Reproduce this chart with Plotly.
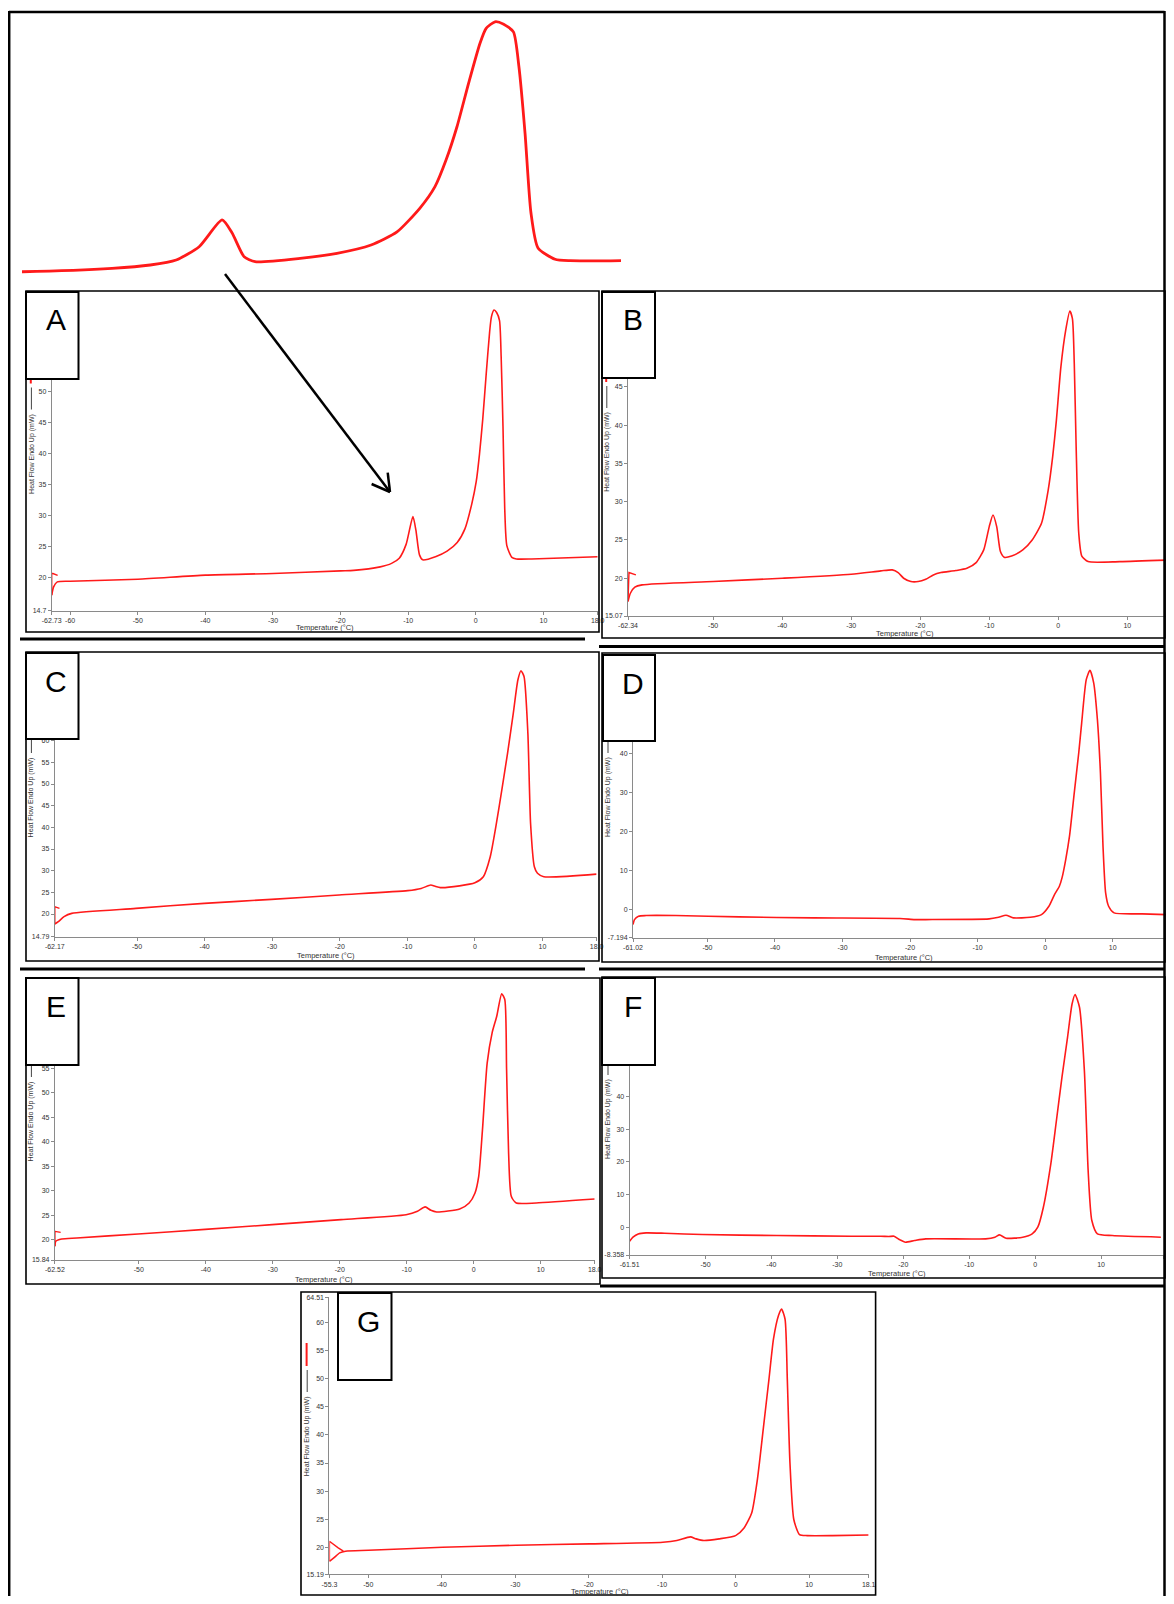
import plotly.graph_objects as go

# The page body has an 8 px margin on each side; the figure is sized so the page
# exactly fills the 1174x1604 window, and layout positions (in window pixels) are
# shifted by that offset.
WIN_W, WIN_H = 1174, 1604
OFF = 8
W, H = WIN_W - 2 * OFF, WIN_H - 2 * OFF
XMAX = OFF + W  # last visible window pixel column of the figure

# ---------------- data (Temperature in °C, Heat Flow in mW) ----------------
A_T = [-62.73, -62.45, -61.9, -60.0, -50.0, -40.0, -30.0, -20.0, -18.07, -14.14, -12.46, -11.32,
       -10.31, -9.3, -8.86, -8.33, -7.85, -5.87, -4.25, -2.75, -1.61, -0.60, 0.06, 0.55, 1.03,
       1.54, 2.04, 2.31, 2.70, 3.08, 3.51, 3.75, 4.02, 4.28, 4.59, 5.34, 6.0, 8.24, 18.03]
A_HF = [17.2, 18.55, 19.35, 19.45, 19.78, 20.43, 20.7, 21.13, 21.2, 21.77, 22.33, 23.17,
        25.4, 29.9, 27.7, 23.7, 22.9, 23.45, 24.3, 25.7, 27.9, 31.9, 35.5, 40.0, 45.6,
        52.9, 59.6, 62.1, 63.2, 62.8, 61.5, 55.7, 44.5, 31.1, 25.2, 23.3, 23.05, 23.05, 23.4]
A_hook_T = [-62.73, -62.73, -62.55, -61.85]
A_hook_HF = [17.2, 20.7, 20.7, 20.4]

B_T = [-62.34, -62.0, -61.35, -60.3, -50, -40, -30, -25.7, -24.05, -23.2, -22.4, -21.35, -20.3,
       -19.2, -18.1, -17.0, -14.86, -13.24, -11.9, -10.8, -10.0, -9.46, -8.92, -8.38, -7.84,
       -6.76, -5.14, -3.78, -2.43, -1.46, -0.81, -0.27, 0.38, 1.08, 1.68, 2.05, 2.32, 2.59,
       2.97, 3.41, 4.32, 8.92, 16.9]
B_HF = [16.96, 18.04, 18.83, 19.13, 19.57, 20.0, 20.52, 20.96, 21.09, 20.74, 20.0, 19.57, 19.57,
        19.87, 20.43, 20.74, 21.0, 21.3, 22.04, 23.7, 26.74, 28.26, 26.74, 23.48, 22.74,
        22.9, 23.7, 25.0, 27.17, 31.5, 35.87, 40.65, 47.6, 52.4, 54.9, 53.9, 48.0, 37.2,
        25.87, 22.9, 22.17, 22.17, 22.4]
B_hook_T = [-62.34, -62.3, -62.2, -61.2]
B_hook_HF = [17.0, 20.7, 20.74, 20.43]

C_T = [-62.17, -61.65, -60.8, -59.66, -50.17, -40.06, -30.1, -20.1, -9.94, -7.95, -6.53, -5.97,
       -5.1, -2.27, 0, 1.25, 2.27, 3.1, 3.98, 4.83, 5.68, 6.36, 6.82, 7.27, 7.84, 8.24, 8.8,
       9.26, 10.2, 18.0]
C_HF = [17.7, 18.23, 19.4, 20.15, 21.3, 22.46, 23.38, 24.4, 25.4, 25.9, 26.7, 26.46,
        26.1, 26.5, 27.2, 28.6, 33.2, 40.15, 48.6, 57.1, 66.3, 74.0, 76.15, 74.8, 61.7, 40.9, 30.9,
        29.4, 28.6, 29.2]
C_hook_T = [-62.17, -62.17, -62.0, -61.48]
C_hook_HF = [17.7, 21.7, 21.6, 21.3]

D_T = [-61.02, -60.8, -60.2, -59.1, -54.7, -45.3, -34.25, -21.5, -19.3, -17.7, -8.3, -6.9, -5.8,
       -4.7, -2.2, -0.55, 0.55, 1.38, 2.1, 2.49, 3.04, 3.6, 4.3, 4.97, 5.4, 6.08, 6.63, 7.18,
       7.73, 8.18, 8.56, 8.95, 9.39, 10.2, 14.36, 19.2]
D_HF = [-3.84, -2.56, -1.7, -1.53, -1.53, -1.88, -2.13, -2.3, -2.56, -2.56, -2.39, -1.96, -1.45,
        -2.13, -1.96, -1.28, 0.85, 3.84, 5.97, 8.1, 12.8, 18.76, 29.8, 40.1, 47.7, 58.8, 61.2, 58.0,
        48.6, 35.0, 16.2, 4.26, 0.85, -0.85, -1.11, -1.36]

E_T = [-62.52, -62.4, -61.5, -59.26, -50.1, -40.1, -30.1, -19.8, -10.1, -8.4, -7.26, -6.4, -5.54,
       -2.1, -0.69, 0.17, 0.74, 1.3, 2.0, 2.74, 3.43, 4.17, 4.63, 4.9, 5.2, 5.6, 6.34, 9.3, 18.05]
E_HF = [18.64, 19.66, 20.14, 20.34, 21.16, 22.1, 23.07, 24.1, 25.1, 25.8, 26.7, 26.0, 25.66,
        26.27, 27.5, 29.5, 32.95, 42.5, 56.1, 62.3, 65.7, 70.3, 69.1, 54.8, 37.7, 28.86, 27.5, 27.5, 28.3]
E_hook_T = [-62.52, -62.52, -62.3, -61.66]
E_hook_HF = [18.64, 21.7, 21.65, 21.5]

F_T = [-61.51, -61.0, -60.2, -59.0, -56.2, -50.5, -39.2, -27.9, -23.4, -22.2, -21.4, -20.5, -19.7,
       -18.3, -16.6, -7.5, -6.1, -5.4, -4.4, -1.87, -0.45, 0.4, 1.25, 2.38, 3.23, 4.07, 4.92,
       5.6, 6.06, 6.73, 7.47, 8.04, 8.6, 9.45, 11.7, 19.07]
F_HF = [-4.16, -2.94, -1.93, -1.62, -1.73, -2.13, -2.44, -2.64, -2.64, -2.74, -2.64, -3.76, -4.47,
        -3.96, -3.45, -3.45, -2.94, -2.23, -3.25, -2.94, -1.93, 0.1, 6.2, 19.4, 32.6, 45.8, 58.0,
        68.1, 71.0, 67.1, 47.8, 17.4, 2.13, -1.93, -2.44, -2.94]

G_T = [-55.3, -54.7, -53.9, -53.1, -50, -39.9, -29.9, -19.9, -9.9, -8.0, -6.16, -5.37, -4.33,
       -2.24, 0, 1.15, 2.19, 2.97, 3.76, 4.54, 5.16, 5.84, 6.26, 6.73, 7.04, 7.4, 7.93, 8.71,
       9.75, 13.15, 18.1]
G_HF = [17.5, 18.1, 19.0, 19.3, 19.46, 20.0, 20.36, 20.6, 20.9, 21.2, 21.85, 21.5, 21.2,
        21.5, 22.08, 23.45, 26.1, 32.1, 41.0, 49.9, 57.1, 61.25, 62.4, 60.65, 49.9, 35.06, 24.9, 22.26,
        22.08, 22.08, 22.2]
G_hook_T = [-55.3, -55.3, -54.1, -53.4]
G_hook_HF = [17.5, 21.07, 19.9, 19.3]

# tick labels (only those visible in the picture)
A_xtick_vals = [-62.73, -60, -50, -40, -30, -20, -10, 0, 10, 18.03]
A_xtick_text = ["-62.73", "-60", "-50", "-40", "-30", "-20", "-10", "0", "10", "18.0"]
A_ytick_vals = [14.7, 20, 25, 30, 35, 40, 45, 50]
A_ytick_text = ["14.7", "20", "25", "30", "35", "40", "45", "50"]

B_xtick_vals = [-62.34, -50, -40, -30, -20, -10, 0, 10]
B_xtick_text = ["-62.34", "-50", "-40", "-30", "-20", "-10", "0", "10"]
B_ytick_vals = [15.07, 20, 25, 30, 35, 40, 45]
B_ytick_text = ["15.07", "20", "25", "30", "35", "40", "45"]

C_xtick_vals = [-62.17, -50, -40, -30, -20, -10, 0, 10, 18.01]
C_xtick_text = ["-62.17", "-50", "-40", "-30", "-20", "-10", "0", "10", "18.0"]
C_ytick_vals = [14.79, 20, 25, 30, 35, 40, 45, 50, 55, 60]
C_ytick_text = ["14.79", "20", "25", "30", "35", "40", "45", "50", "55", "60"]

D_xtick_vals = [-61.02, -50, -40, -30, -20, -10, 0, 10]
D_xtick_text = ["-61.02", "-50", "-40", "-30", "-20", "-10", "0", "10"]
D_ytick_vals = [-7.194, 0, 10, 20, 30, 40]
D_ytick_text = ["-7.194", "0", "10", "20", "30", "40"]

E_xtick_vals = [-62.52, -50, -40, -30, -20, -10, 0, 10, 18.05]
E_xtick_text = ["-62.52", "-50", "-40", "-30", "-20", "-10", "0", "10", "18.0"]
E_ytick_vals = [15.84, 20, 25, 30, 35, 40, 45, 50, 55]
E_ytick_text = ["15.84", "20", "25", "30", "35", "40", "45", "50", "55"]

F_xtick_vals = [-61.51, -50, -40, -30, -20, -10, 0, 10, 19.5]
F_xtick_text = ["-61.51", "-50", "-40", "-30", "-20", "-10", "0", "10", "19.5"]
F_ytick_vals = [-8.358, 0, 10, 20, 30, 40]
F_ytick_text = ["-8.358", "0", "10", "20", "30", "40"]

G_xtick_vals = [-55.3, -50, -40, -30, -20, -10, 0, 10, 18.12]
G_xtick_text = ["-55.3", "-50", "-40", "-30", "-20", "-10", "0", "10", "18.1"]
G_ytick_vals = [15.19, 20, 25, 30, 35, 40, 45, 50, 55, 60, 64.51]
G_ytick_text = ["15.19", "20", "25", "30", "35", "40", "45", "50", "55", "60", "64.51"]

X_TITLE = "Temperature (°C)"
Y_TITLE = "Heat Flow Endo Up (mW)"
PANEL_LABELS = ["A", "B", "C", "D", "E", "F", "G"]

# ---------------- layout helpers (window pixel -> paper) ----------------
def px(x):
    return min(1.0, max(0.0, (x - OFF) / W))

def py(y):
    return min(1.0, max(0.0, 1 - (y - OFF) / H))

FONT = "Liberation Sans, Arial, sans-serif"
AXCOL = "#8a8a8a"
TXTCOL = "#333333"
RED = "#ff1a1a"

# right-hand panels are cut by the window edge: range end = value at last visible column
B_XEND = (XMAX - 1058.3) / 6.9
D_XEND = (XMAX - 1045.2) / 6.754

panels = [
    dict(T=A_T, HF=A_HF, hT=A_hook_T, hHF=A_hook_HF, xpx=(51.7, 597.7), ypx=(610.7, 296),
         xr=(-62.73, 18.03), yr=(14.7, 65.46), xtv=A_xtick_vals, xtt=A_xtick_text,
         ytv=A_ytick_vals, ytt=A_ytick_text, xtitle=(324.5, 627.7), ytitle=(31.4, 453.5),
         box=(26, 291, 599, 632), lab=(26, 292, 78.5, 379)),
    dict(T=B_T, HF=B_HF, hT=B_hook_T, hHF=B_hook_HF, xpx=(628, XMAX), ypx=(616, 296),
         xr=(-62.34, B_XEND), yr=(15.07, 56.85), xtv=B_xtick_vals, xtt=B_xtick_text,
         ytv=B_ytick_vals, ytt=B_ytick_text, xtitle=(905, 633), ytitle=(606.8, 452),
         box=(602, 291, XMAX - 1, 638), lab=(602, 292, 655, 378)),
    dict(T=C_T, HF=C_HF, hT=C_hook_T, hHF=C_hook_HF, xpx=(54.8, 596.6), ypx=(936.6, 656),
         xr=(-62.17, 18.01), yr=(14.79, 79.55), xtv=C_xtick_vals, xtt=C_xtick_text,
         ytv=C_ytick_vals, ytt=C_ytick_text, xtitle=(325.7, 955.3), ytitle=(31.4, 797),
         box=(26, 652, 599, 961), lab=(26, 653, 78.5, 739)),
    dict(T=D_T, HF=D_HF, hT=None, hHF=None, xpx=(633, XMAX), ypx=(937.7, 656),
         xr=(-61.02, D_XEND), yr=(-7.194, 64.85), xtv=D_xtick_vals, xtt=D_xtick_text,
         ytv=D_ytick_vals, ytt=D_ytick_text, xtitle=(904, 957.3), ytitle=(608, 797),
         box=(602, 653, XMAX - 1, 962), lab=(603, 655, 655, 741)),
    dict(T=E_T, HF=E_HF, hT=E_hook_T, hHF=E_hook_HF, xpx=(54.9, 594.7), ypx=(1260, 980),
         xr=(-62.52, 18.05), yr=(15.84, 73.1), xtv=E_xtick_vals, xtt=E_xtick_text,
         ytv=E_ytick_vals, ytt=E_ytick_text, xtitle=(324, 1279.3), ytitle=(31.4, 1121),
         box=(26, 978, 600, 1284), lab=(26, 978, 78.5, 1065)),
    dict(T=F_T, HF=F_HF, hT=None, hHF=None, xpx=(629.6, 1163.7), ypx=(1255, 980),
         xr=(-61.51, 19.5), yr=(-8.358, 75.4), xtv=F_xtick_vals, xtt=F_xtick_text,
         ytv=F_ytick_vals, ytt=F_ytick_text, xtitle=(896.7, 1273.3), ytitle=(608, 1119),
         box=(602, 977, XMAX - 1, 1278), lab=(602, 978, 655, 1065)),
    dict(T=G_T, HF=G_HF, hT=G_hook_T, hHF=G_hook_HF, xpx=(329.4, 868.7), ypx=(1574.3, 1297.3),
         xr=(-55.3, 18.12), yr=(15.19, 64.51), xtv=G_xtick_vals, xtt=G_xtick_text,
         ytv=G_ytick_vals, ytt=G_ytick_text, xtitle=(599.6, 1591.5), ytitle=(307.2, 1436),
         box=(301, 1292, 875.6, 1595), lab=(338, 1293, 391.5, 1380)),
]

fig = go.Figure()
layout = dict(
    template="none",
    width=W, height=H, margin=dict(l=0, r=0, t=0, b=0, pad=0), autosize=False,
    paper_bgcolor="white", plot_bgcolor="white", showlegend=False,
    font=dict(family=FONT, color=TXTCOL),
)
shapes = []
annotations = []

def line(x0, y0, x1, y1, w=1.5, color="black"):
    shapes.append(dict(type="line", xref="paper", yref="paper",
                       x0=px(x0), y0=py(y0), x1=px(x1), y1=py(y1),
                       line=dict(color=color, width=w), layer="above"))

def rect(x0, y0, x1, y1, w=1.5, fill=None):
    d = dict(type="rect", xref="paper", yref="paper",
             x0=px(x0), y0=py(y1), x1=px(x1), y1=py(y0),
             line=dict(color="black", width=w), layer="above")
    if fill:
        d["fillcolor"] = fill
    shapes.append(d)

for i, p in enumerate(panels, start=1):
    xa = "x" if i == 1 else f"x{i}"
    ya = "y" if i == 1 else f"y{i}"
    fig.add_trace(go.Scatter(x=p["T"], y=p["HF"], mode="lines", xaxis=xa, yaxis=ya,
                             line=dict(color=RED, width=1.6, shape="spline", smoothing=0.6),
                             hoverinfo="skip"))
    if p["hT"] is not None:
        fig.add_trace(go.Scatter(x=p["hT"], y=p["hHF"], mode="lines", xaxis=xa, yaxis=ya,
                                 line=dict(color=RED, width=1.4), hoverinfo="skip"))
    span_x = p["xr"][1] - p["xr"][0]
    span_y = p["yr"][1] - p["yr"][0]
    layout["xaxis" if i == 1 else f"xaxis{i}"] = dict(
        domain=[px(p["xpx"][0]), px(p["xpx"][1])],
        range=[p["xr"][0] - span_x * 1e-5, p["xr"][1] + span_x * 1e-5],
        anchor=ya, automargin=False, showline=True, linecolor=AXCOL, linewidth=1,
        ticks="outside", ticklen=3, tickcolor=AXCOL, tickwidth=1,
        tickmode="array", tickvals=p["xtv"], ticktext=p["xtt"],
        tickfont=dict(size=7, color=TXTCOL, family=FONT), showgrid=False, zeroline=False)
    layout["yaxis" if i == 1 else f"yaxis{i}"] = dict(
        domain=[py(p["ypx"][0]), py(p["ypx"][1])],
        range=[p["yr"][0] - span_y * 1e-5, p["yr"][1]],
        anchor=xa, automargin=False, showline=True, linecolor=AXCOL, linewidth=1,
        ticks="outside", ticklen=3, tickcolor=AXCOL, tickwidth=1,
        tickmode="array", tickvals=p["ytv"], ticktext=p["ytt"],
        tickfont=dict(size=7, color=TXTCOL, family=FONT), showgrid=False, zeroline=False)
    # axis titles
    annotations.append(dict(text=X_TITLE, xref="paper", yref="paper",
                            x=px(p["xtitle"][0]), y=py(p["xtitle"][1]), showarrow=False,
                            font=dict(size=7.5, color=TXTCOL, family=FONT),
                            xanchor="center", yanchor="middle"))
    annotations.append(dict(text=Y_TITLE, xref="paper", yref="paper",
                            x=px(p["ytitle"][0]), y=py(p["ytitle"][1]), showarrow=False,
                            textangle=-90, font=dict(size=7, color=TXTCOL, family=FONT),
                            xanchor="center", yanchor="middle"))
    top = p["ytitle"][1] - 41
    line(p["ytitle"][0], top - 3, p["ytitle"][0], top - 25, w=1, color="#444444")
    line(p["ytitle"][0] - 0.6, top - 29, p["ytitle"][0] - 0.6, top - 52, w=2, color=RED)
    # panel frame and label box
    bx = p["box"]
    rect(bx[0], bx[1], bx[2], bx[3], w=1.6)
    lb = p["lab"]
    rect(lb[0], lb[1], lb[2], lb[3], w=2, fill="white")
    annotations.append(dict(text=PANEL_LABELS[i - 1], xref="paper", yref="paper",
                            x=px((lb[0] + lb[2]) / 2 + 4), y=py(lb[1] + 28), showarrow=False,
                            font=dict(size=30, color="black", family=FONT),
                            xanchor="center", yanchor="middle"))

# magnified inset of curve A (top strip)
fig.add_trace(go.Scatter(x=A_T, y=A_HF, mode="lines", xaxis="x8", yaxis="y8",
                         line=dict(color=RED, width=2.8, shape="spline", smoothing=0.6),
                         hoverinfo="skip"))
layout["xaxis8"] = dict(domain=[px(22), px(621)], range=[-18.1, 8.24], anchor="y8",
                        visible=False, automargin=False)
layout["yaxis8"] = dict(domain=[py(275), py(15)], range=[20.65, 64.34], anchor="x8",
                        visible=False, automargin=False)

# separators and outer frame
RB = XMAX - 1.5
line(20, 639, 585, 639, w=3)
line(599, 646.5, RB, 646.5, w=3)
line(20, 969, 585, 969, w=3)
line(599, 969, RB, 969, w=3)
line(600, 1286, RB, 1286, w=3)
line(9, 12, RB, 12, w=2.5)
line(9.2, 11, 9.2, 1604, w=2.5)
line(RB, 11, RB, 1604, w=2.5)

# arrow from inset to the small peak in A
line(225, 274, 390, 492, w=2.5)
line(371.6, 484, 390, 492, w=2.5)
line(387.7, 472.7, 390, 492, w=2.5)

layout["shapes"] = shapes
layout["annotations"] = annotations
fig.update_layout(**layout)
fig.write_html("out.html")
